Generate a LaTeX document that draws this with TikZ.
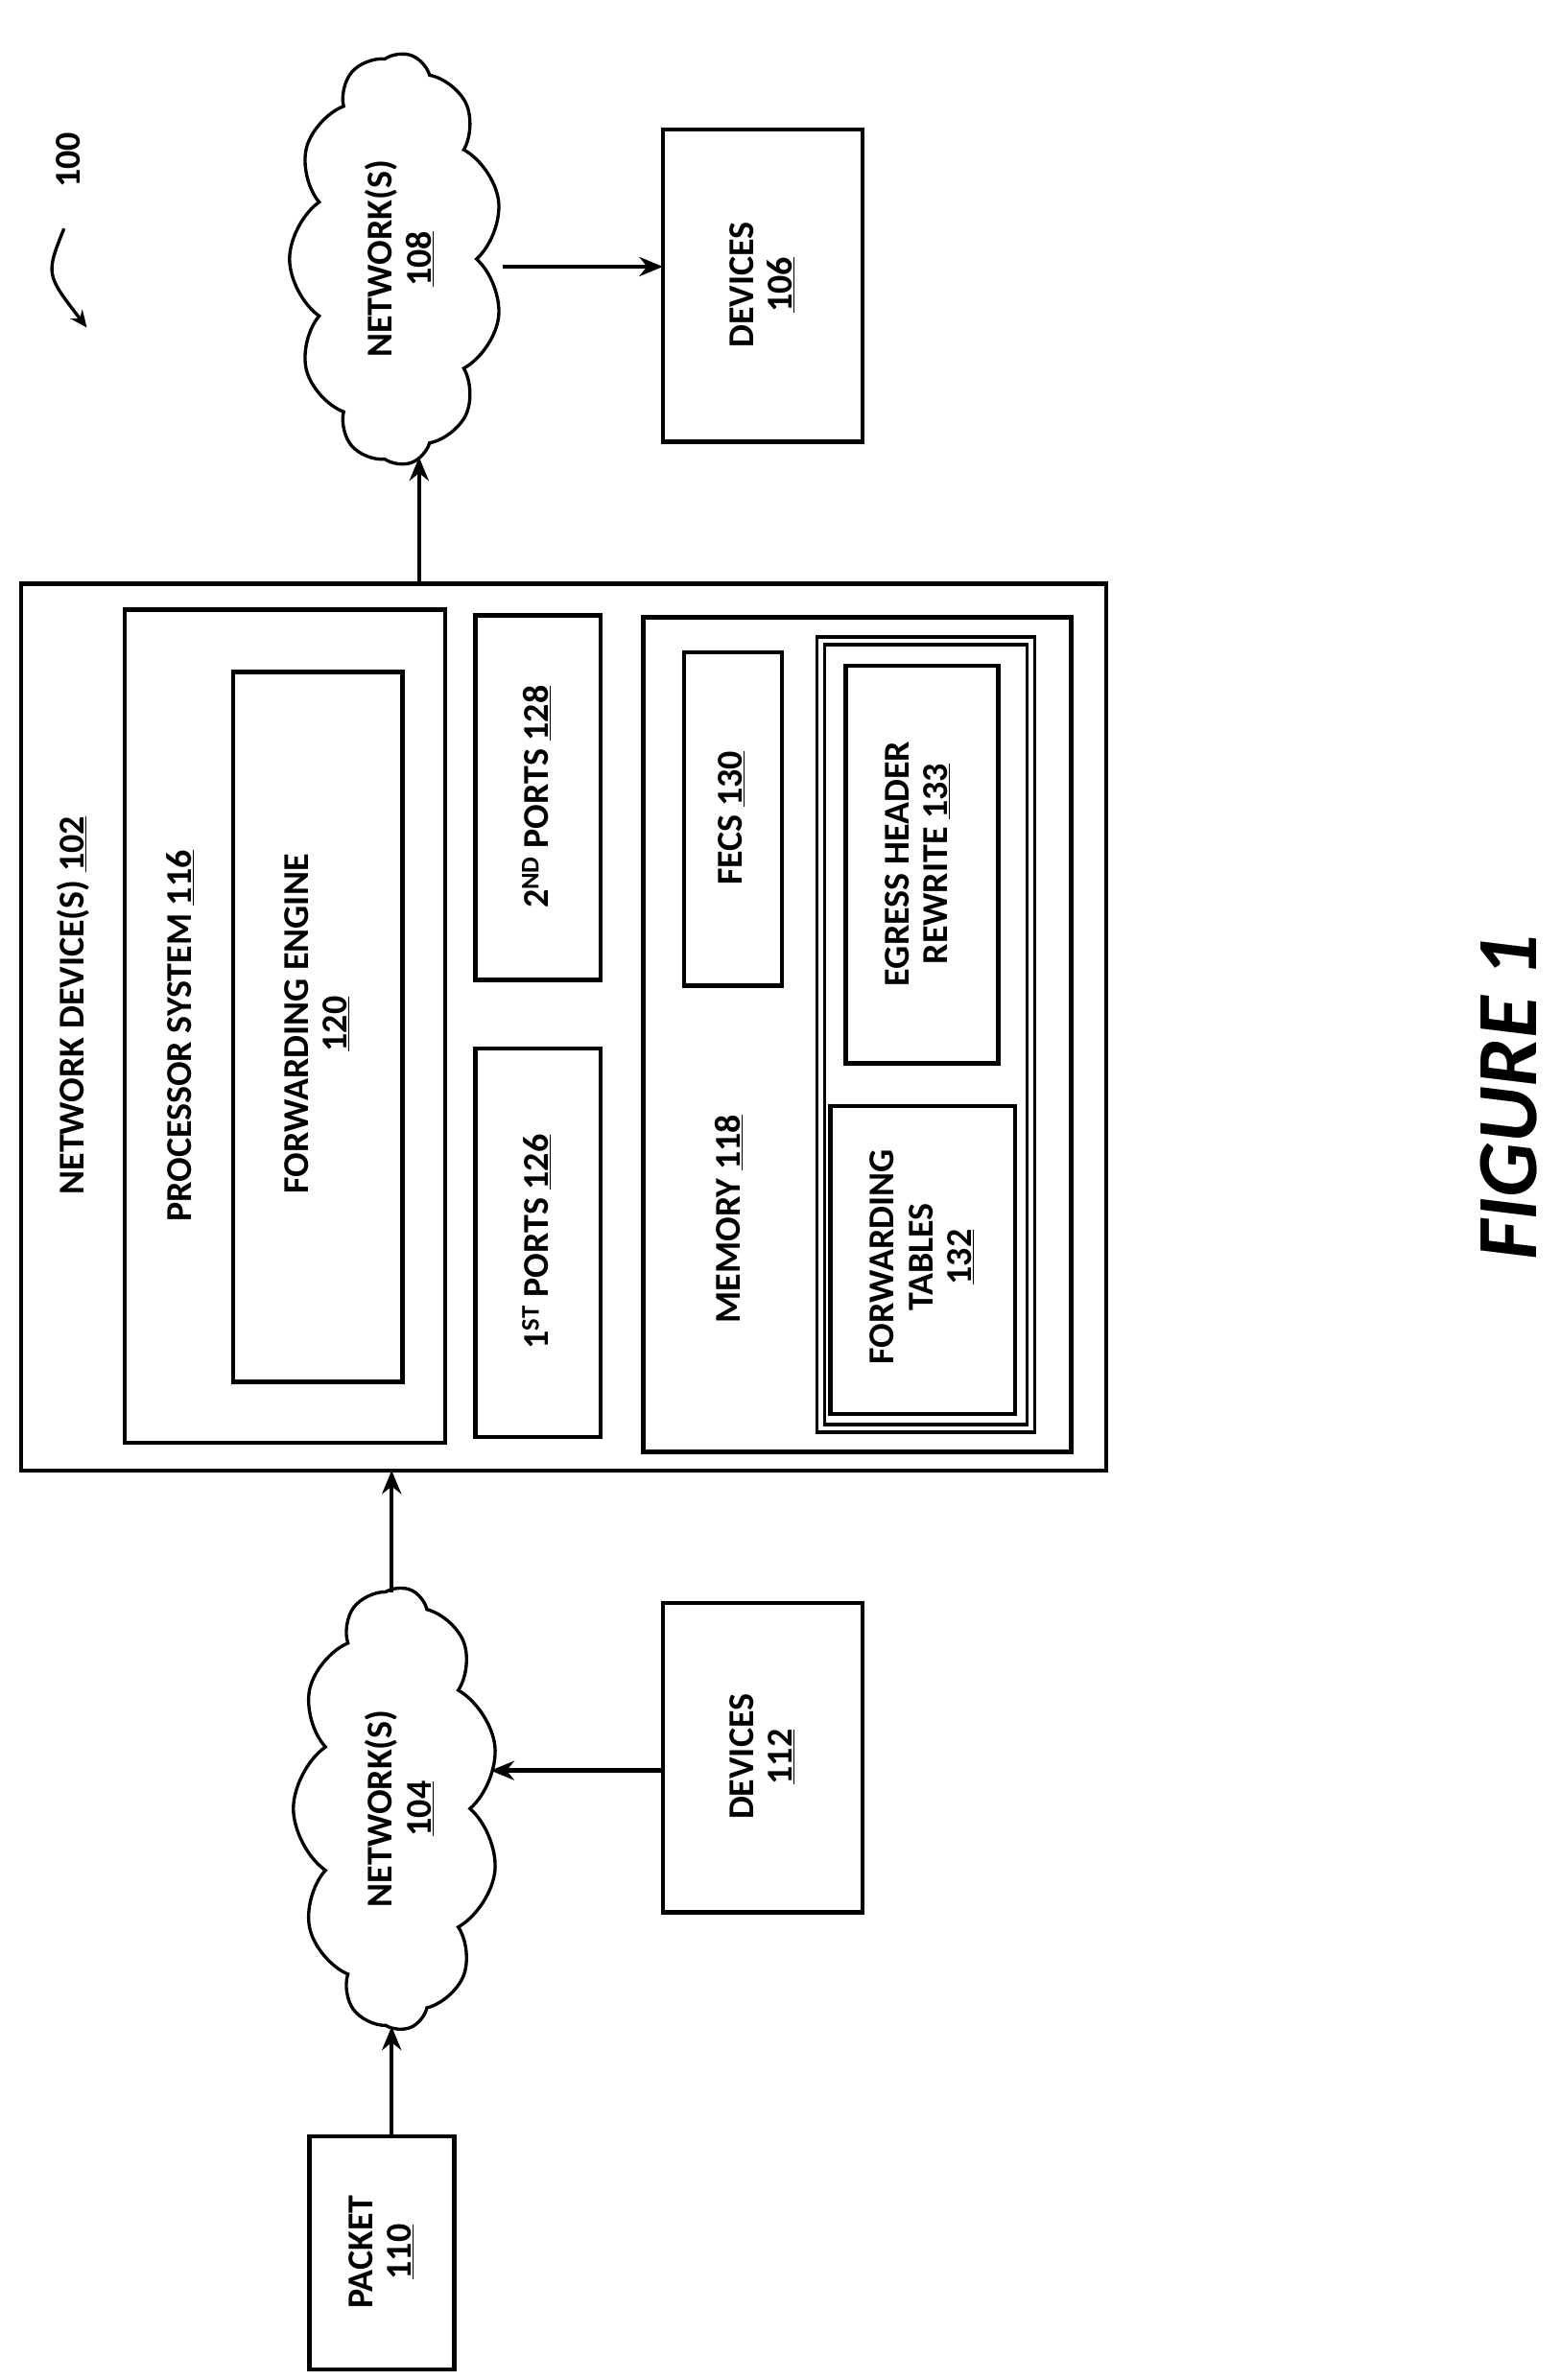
\documentclass[tikz,border=0pt]{standalone}
\usepackage{fontspec}
\setmainfont{Carlito}
\usetikzlibrary{shapes.symbols,arrows.meta}
\begin{document}
\begin{tikzpicture}[x=0.05cm,y=-0.05cm,
  box/.style={draw,line width=4pt},
  lab/.style={rotate=90,align=center,font=\fontsize{34}{36}\selectfont\bfseries},
  arr/.style={line width=4pt,-{Stealth[length=22pt,width=18pt]}},
  cl/.style={cloud,cloud puffs=11,cloud puff arc=110,draw,line width=3pt,aspect=0.5}]
\useasboundingbox (0,0) rectangle (1024,1562);
\draw[box] (14,383) rectangle (726,965);
\draw[box] (82,400) rectangle (292,947);
\draw[box] (153,441) rectangle (264,907);
\draw[box] (312,688) rectangle (394,943);
\draw[box] (312,404) rectangle (394,643);
\draw[box] (422,405) rectangle (703,953);
\draw[box] (449,428) rectangle (513,647);
\draw[line width=3pt] (536,418) rectangle (679,940);
\draw[line width=3pt] (541,423) rectangle (674,935);
\draw[box] (555,437) rectangle (655,698);
\draw[box] (545,726) rectangle (666,928);
\node[lab] (nd) at (48,660) {NETWORK DEVICE(S) \underline{102}};
\node[lab] (ps) at (118,680) {PROCESSOR SYSTEM \underline{116}};
\node[lab] (fe) at (208,672) {FORWARDING ENGINE\\\underline{120}};
\node[lab] (p1) at (352,815) {1\textsuperscript{ST} PORTS \underline{126}};
\node[lab] (p2) at (352,523) {2\textsuperscript{ND} PORTS \underline{128}};
\node[lab] (mem) at (478,800) {MEMORY \underline{118}};
\node[lab] (fecs) at (480,537) {FECS \underline{130}};
\node[lab] (eg) at (602,567) {EGRESS HEADER\\REWRITE \underline{133}};
\node[lab] (ft) at (605,825) {FORWARDING\\TABLES\\\underline{132}};
\node[cl,minimum width=270*0.05cm,minimum height=140*0.05cm,rotate=90] (c108) at (260,170) {};
\node[lab] at (262,170) {NETWORK(S)\\\underline{108}};
\node[cl,minimum width=290*0.05cm,minimum height=135*0.05cm,rotate=90] (c104) at (260,1187) {};
\node[lab] at (262,1187) {NETWORK(S)\\\underline{104}};
\draw[box] (435,85) rectangle (566,290);
\node[lab] (d106) at (500,187) {DEVICES\\\underline{106}};
\draw[box] (435,1052) rectangle (566,1255);
\node[lab] (d112) at (500,1153) {DEVICES\\\underline{112}};
\draw[box] (203,1402) rectangle (298,1555);
\node[lab] (pk) at (250,1478) {PACKET\\\underline{110}};
\coordinate (a1) at (257,1402); \coordinate (a1e) at (257,1330);
\draw[arr] (a1) -- (a1e);
\coordinate (a2) at (435,1162); \coordinate (a2e) at (322,1162);
\draw[arr] (a2) -- (a2e);
\coordinate (a3) at (257,1045); \coordinate (a3e) at (257,965);
\draw[arr] (a3) -- (a3e);
\coordinate (a4) at (275,383); \coordinate (a4e) at (275,300);
\draw[arr] (a4) -- (a4e);
\coordinate (a5) at (330,175); \coordinate (a5e) at (435,175);
\draw[arr] (a5) -- (a5e);
\node[lab] (n100) at (45,105) {100};
\coordinate (b1) at (42,150); \coordinate (b2) at (57,215);
\draw[line width=3pt,-{Stealth[length=16pt,width=14pt]}] (b1) .. controls (30,180) .. (b2);
\node[rotate=90,font=\fontsize{80}{80}\selectfont\bfseries\itshape] (fig) at (990,720) {FIGURE 1};
\end{tikzpicture}
\end{document}
